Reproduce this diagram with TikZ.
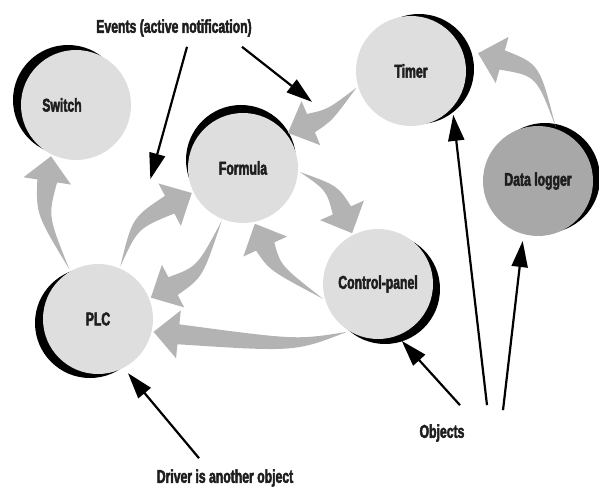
\documentclass[tikz,border=0pt]{standalone}
\usepackage{fontspec}
\setmainfont{Liberation Sans}[FakeStretch=0.66,BoldFeatures={FakeBold=2.5}]
\usepackage{tikz}
\usetikzlibrary{arrows.meta,calc,shadows}
\definecolor{objgray}{HTML}{DEDEDE}
\definecolor{loggray}{HTML}{A8A8A8}
\definecolor{flowgray}{HTML}{B3B3B3}
\definecolor{inkgray}{HTML}{1E1E1E}

\newcommand{\flowarrow}[3]{%
  \fill[flow] let \p1=($(#3)-(#2)$), \n1={atan2(\y1,\x1)} in
    (#1) .. controls ($(#2)+({\n1+90}:6pt)$) .. ($(#3)+({\n1+180}:25pt)+({\n1+90}:10pt)$)
    -- ($(#3)+({\n1+180}:25pt)+({\n1+90}:24pt)$) -- (#3)
    -- ($(#3)+({\n1+180}:25pt)+({\n1-90}:24pt)$)
    -- ($(#3)+({\n1+180}:25pt)+({\n1-90}:10pt)$) .. controls ($(#2)+({\n1-90}:6pt)$) .. (#1) -- cycle;}

\begin{document}
\begin{tikzpicture}[x=1pt,y=-1pt,
    font=\bfseries\fontsize{18.5}{20}\selectfont,
    obj/.style={circle,minimum size=110pt,inner sep=0pt,outer sep=2pt,fill=objgray,text=inkgray},
    rim/.style 2 args={drop shadow={shadow xshift=#1,shadow yshift=#2,fill=black,opacity=1}},
    flow/.style={fill=flowgray},
    ptr/.style={-{Triangle[length=26pt,width=16pt]},line width=2.2pt,shorten >=5pt},
    note/.style={inner sep=0pt,text=inkgray}]
    \useasboundingbox (0,0) rectangle (599,489);

    \node[obj,rim={-8pt}{5pt},label={[xshift=-14pt,text=inkgray]center:Switch}] (switch) at (76,105) {};
    \node[obj,rim={-2pt}{8pt}] (formula) at (243,168) {Formula};
    \node[obj,rim={8pt}{2pt}] (timer) at (411,71) {Timer};
    \node[obj,rim={7pt}{3pt},fill=loggray] (datalogger) at (538,181) {Data logger};
    \node[obj,rim={7pt}{-5pt}] (controlpanel) at (378,284) {Control-panel};
    \node[obj,rim={-8pt}{-4pt}] (plc) at (98,319) {PLC};

    \flowarrow{timer.197}{330,115}{formula.38}
    \flowarrow{datalogger.72}{538,70}{[xshift=12pt,yshift=3pt]timer.15}
    \flowarrow{formula.-4}{332,188}{controlpanel.117}
    \flowarrow{controlpanel.195}{275,268}{formula.-78}
    \flowarrow{formula.-112}{200,272}{plc.22}
    \flowarrow{plc.67}{135,223}{formula.206}
    \flowarrow{plc.120}{42,215}{switch.-116}
    \flowarrow{controlpanel.-123}{296,346}{plc.-13}

    \node[note] (events) at (174,28) {Events (active notification)};
    \node[note] (objects) at (442,433) {Objects};
    \node[note] (driver) at (225,478) {Driver is another object};
    \coordinate (evA) at (149,184);
    \coordinate (evB) at (316,105);

    \draw[ptr] ([xshift=13pt,yshift=-10pt]events.south) -- (evA);
    \draw[ptr] ([xshift=68pt,yshift=-10pt]events.south) -- (evB);
    \draw[ptr] ([xshift=-26pt,yshift=11pt]driver.north) -- (plc.-62);
    \draw[ptr] ([xshift=18pt,yshift=19pt]objects.north) -- (controlpanel.-69);
    \draw[ptr] ([xshift=45pt,yshift=19pt]objects.north) -- (timer.-43);
    \draw[ptr] ([xshift=61pt,yshift=14pt]objects.north) -- (datalogger.-105);
\end{tikzpicture}
\end{document}
